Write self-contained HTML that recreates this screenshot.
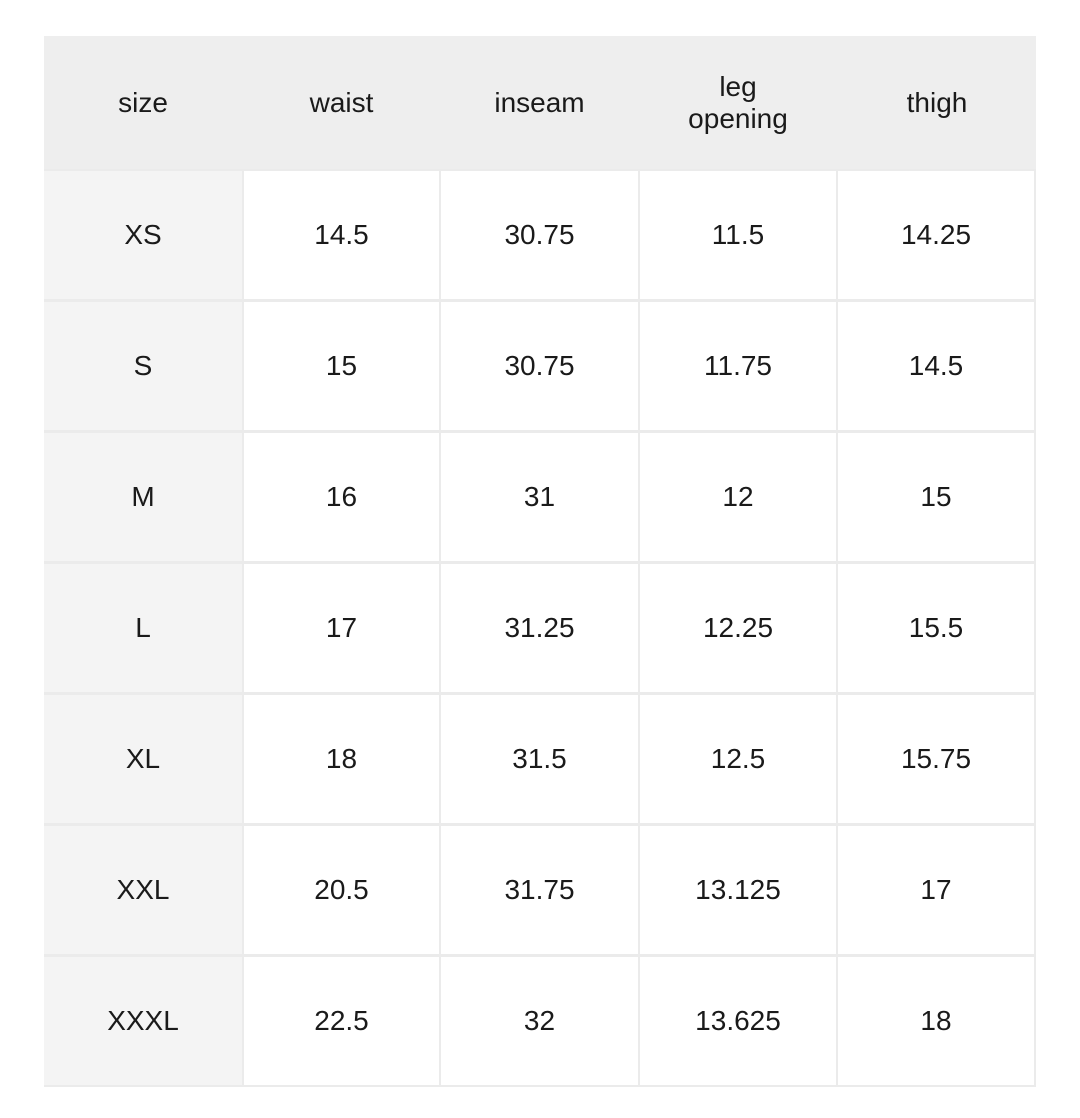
<!DOCTYPE html>
<html><head><style>
body{margin:0;width:1080px;height:1118px;background:#fff;position:relative;font-family:"Liberation Sans",sans-serif;color:#1a1a1a}
.b{position:absolute;left:44px;top:36px;width:992px;height:1051px;background:#ebebeb}
.hd{position:absolute;left:44px;top:36px;width:992px;height:133px;background:#eeeeee}
.r{position:absolute;left:44px;width:992px;height:128px}
.c{position:absolute;top:0;height:100%;display:flex;align-items:center;justify-content:center;text-align:center;font-size:28px;line-height:32px;background:#fff}
.hd .c{background:#eeeeee}
.r .c0{background:#f4f4f4}
.c0{left:0;width:198px}.c1{left:200px;width:195px}.c2{left:397px;width:197px}.c3{left:596px;width:196px}.c4{left:794px;width:196px}
.hd .c4{width:198px}
</style></head><body>
<div class="b"></div>
<div class="hd"><div class="c c0">size</div><div class="c c1">waist</div><div class="c c2">inseam</div><div class="c c3">leg<br>opening</div><div class="c c4">thigh</div></div>
<div class="r" style="top:171px"><div class="c c0">XS</div><div class="c c1">14.5</div><div class="c c2">30.75</div><div class="c c3">11.5</div><div class="c c4">14.25</div></div>
<div class="r" style="top:302px"><div class="c c0">S</div><div class="c c1">15</div><div class="c c2">30.75</div><div class="c c3">11.75</div><div class="c c4">14.5</div></div>
<div class="r" style="top:433px"><div class="c c0">M</div><div class="c c1">16</div><div class="c c2">31</div><div class="c c3">12</div><div class="c c4">15</div></div>
<div class="r" style="top:564px"><div class="c c0">L</div><div class="c c1">17</div><div class="c c2">31.25</div><div class="c c3">12.25</div><div class="c c4">15.5</div></div>
<div class="r" style="top:695px"><div class="c c0">XL</div><div class="c c1">18</div><div class="c c2">31.5</div><div class="c c3">12.5</div><div class="c c4">15.75</div></div>
<div class="r" style="top:826px"><div class="c c0">XXL</div><div class="c c1">20.5</div><div class="c c2">31.75</div><div class="c c3">13.125</div><div class="c c4">17</div></div>
<div class="r" style="top:957px"><div class="c c0">XXXL</div><div class="c c1">22.5</div><div class="c c2">32</div><div class="c c3">13.625</div><div class="c c4">18</div></div>
</body></html>
